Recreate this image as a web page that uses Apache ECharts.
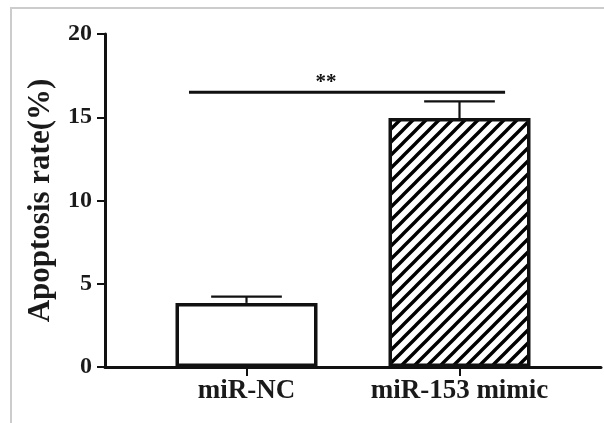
<!DOCTYPE html>
<html>
<head>
<meta charset="utf-8">
<script src="https://cdn.jsdelivr.net/npm/echarts@6/dist/echarts.min.js"></script>
<style>html,body{margin:0;padding:0;background:#fff}#c{width:604px;height:423px}</style>
</head>
<body>
<div id="c"></div>
<script>
// ---- data ----
var categories = ['miR-NC', 'miR-153 mimic'];
var means = [3.85, 14.95];
var errors = [0.38, 1.0];
var yTicks = [0, 5, 10, 15, 20];
var sigLevel = 16.5;
var sigText = '**';
var yName = 'Apoptosis rate(%)';

// hatch pattern
function makeHatch() {
  var s = 13, c = document.createElement('canvas');
  c.width = s; c.height = s;
  var g = c.getContext('2d');
  g.fillStyle = '#fff'; g.fillRect(0, 0, s, s);
  g.strokeStyle = '#000'; g.lineWidth = 3.4; g.lineCap = 'square';
  g.beginPath();
  g.moveTo(-2, s + 2); g.lineTo(s + 2, -2);
  g.moveTo(-2, 2); g.lineTo(2, -2);
  g.moveTo(s - 2, s + 2); g.lineTo(s + 2, s - 2);
  g.stroke();
  return c;
}
var hatch = makeHatch();
var fills = ['#ffffff', { image: hatch, repeat: 'repeat' }];

var font = '"Liberation Serif", "Times New Roman", serif';
var chart = echarts.init(document.getElementById('c'), null, { renderer: 'canvas' });

var option = {
  backgroundColor: '#fff',
  animation: false,
  grid: [
    { left: 140, right: 38, top: 34, bottom: 56 },
    { left: 105, right: 3, top: 34, bottom: 56 }
  ],
  xAxis: [
    {
      type: 'category', gridIndex: 0, data: categories,
      axisLine: { show: false },
      axisTick: { show: true, alignWithLabel: true, length: 9, lineStyle: { color: '#111', width: 2 } },
      axisLabel: { interval: 0, hideOverlap: false, margin: 11, fontFamily: font, fontWeight: 'bold', fontSize: 27, color: '#1a1a1a' }
    },
    {
      type: 'category', gridIndex: 1, data: [''],
      axisLine: { show: true, lineStyle: { color: '#111', width: 3 } },
      axisTick: { show: false }, axisLabel: { show: false }
    }
  ],
  yAxis: [
    { type: 'value', gridIndex: 0, min: yTicks[0], max: yTicks[yTicks.length - 1], interval: 5, show: false },
    {
      type: 'value', gridIndex: 1, min: yTicks[0], max: yTicks[yTicks.length - 1], interval: 5,
      name: yName, nameLocation: 'middle', nameRotate: 90, nameGap: 49,
      nameTextStyle: { fontFamily: font, fontWeight: 'bold', fontSize: 31, color: '#1a1a1a' },
      splitLine: { show: false },
      axisLine: { show: true, lineStyle: { color: '#111', width: 3 } },
      axisTick: { show: true, length: 8, lineStyle: { color: '#111', width: 2 } },
      axisLabel: { margin: 13, fontFamily: font, fontWeight: 'bold', fontSize: 24, color: '#1a1a1a' }
    }
  ],
  series: [
    {
      type: 'bar', xAxisIndex: 0, yAxisIndex: 0, barWidth: 142,
      data: means.map(function (v, i) {
        return { value: v, itemStyle: { color: fills[i], borderColor: '#111', borderWidth: 3.5 } };
      }),
      z: 2
    },
    {
      type: 'custom', xAxisIndex: 0, yAxisIndex: 0, z: 3,
      data: means.map(function (v, i) { return [i, v, errors[i]]; }),
      renderItem: function (params, api) {
        var x = api.value(0), m = api.value(1), e = api.value(2);
        var p0 = api.coord([x, m]);
        var p1 = api.coord([x, m + e]);
        var band = api.size([1, 0])[0];
        var hw = band * 0.166;
        var st = { stroke: '#111', lineWidth: 2.2 };
        return {
          type: 'group',
          children: [
            { type: 'line', shape: { x1: p0[0], y1: p0[1], x2: p1[0], y2: p1[1] }, style: st },
            { type: 'line', shape: { x1: p1[0] - hw, y1: p1[1], x2: p1[0] + hw, y2: p1[1] }, style: st }
          ]
        };
      }
    },
    {
      type: 'custom', xAxisIndex: 0, yAxisIndex: 0, z: 3,
      data: [[0, sigLevel]],
      renderItem: function (params, api) {
        var a = api.coord([0, api.value(1)]);
        var b = api.coord([1, api.value(1)]);
        var band = api.size([1, 0])[0];
        return {
          type: 'group',
          children: [
            { type: 'line', shape: { x1: a[0] - band * 0.27, y1: a[1], x2: b[0] + band * 0.214, y2: b[1] },
              style: { stroke: '#111', lineWidth: 3 } },
            { type: 'text', x: a[0] + band * 0.373, y: a[1] + 1,
              style: { text: sigText, fontFamily: font, fontWeight: 'bold', fontSize: 21,
                       fill: '#111', align: 'center', verticalAlign: 'bottom' } }
          ]
        };
      }
    }
  ],
  graphic: [
    { type: 'line', shape: { x1: 11, y1: 8, x2: 604, y2: 8 }, style: { stroke: '#cccccc', lineWidth: 2 }, silent: true },
    { type: 'line', shape: { x1: 11, y1: 7, x2: 11, y2: 423 }, style: { stroke: '#cccccc', lineWidth: 2 }, silent: true }
  ]
};
chart.setOption(option);
</script>
</body>
</html>
